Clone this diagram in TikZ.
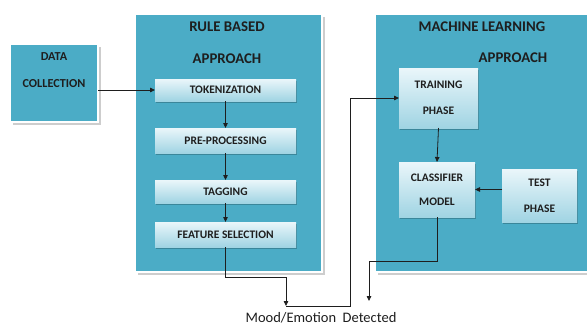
\documentclass[tikz,border=0pt]{standalone}
\usepackage{fontspec}
\setmainfont{Carlito}
\usetikzlibrary{arrows.meta,shadows}
\definecolor{panelblue}{RGB}{75,172,198}
\definecolor{steplight}{RGB}{234,246,250}
\definecolor{stepdark}{RGB}{160,212,227}
\definecolor{shadowgray}{RGB}{205,205,205}
\definecolor{inkgray}{RGB}{30,30,30}

\begin{document}
\begin{tikzpicture}[x=1pt,y=-1pt,
  panel/.style={draw=white, line width=1.2pt, fill=panelblue, anchor=north west,
    inner sep=0pt, outer sep=0pt,
    drop shadow={shadow xshift=2.5pt, shadow yshift=-2.5pt, fill=shadowgray, opacity=1}},
  stepbox/.style={anchor=north west, inner sep=0pt, outer sep=0pt,
    top color=steplight, bottom color=stepdark,
    drop shadow={shadow xshift=1.2pt, shadow yshift=-1.5pt, fill=black, opacity=0.22},
    text=inkgray, font=\fontsize{11.5}{12}\selectfont\bfseries, align=center},
  title/.style={text=inkgray, font=\fontsize{14.8}{16}\selectfont\bfseries, inner sep=0pt},
  boxtext/.style={text=inkgray, font=\fontsize{12.2}{12}\selectfont\bfseries, align=center, inner sep=0pt},
  flow/.style={draw=inkgray, line width=0.8pt, -{Triangle[length=5pt,width=4.5pt]}}]

\useasboundingbox (0,0) rectangle (587,327);
\fill[white] (0,0) rectangle (587,327);

% panels
\node[panel, minimum width=88pt, minimum height=78pt] (dc) at (10,44) {};
\node[boxtext] (dct) at (54,70.5) {DATA\\[15pt]COLLECTION};

\node[panel, minimum width=187pt, minimum height=258pt] (rb) at (135,14) {};
\node[title] (rbt1) at (227,27) {RULE BASED};
\node[title] (rbt2) at (227,59) {APPROACH};

\node[panel, minimum width=230pt, minimum height=258pt] (ml) at (375,14) {};
\node[title] (mlt1) at (482,27) {MACHINE LEARNING};
\node[title] (mlt2) at (513,58) {APPROACH};

% rule based steps
\node[stepbox, minimum width=141pt, minimum height=22pt] (tok) at (155,79) {TOKENIZATION};
\node[stepbox, minimum width=141pt, minimum height=25pt] (pre) at (155,128) {PRE-PROCESSING};
\node[stepbox, minimum width=141pt, minimum height=23pt] (tag) at (155,180) {TAGGING};
\node[stepbox, minimum width=141pt, minimum height=25pt] (fs) at (155,222) {FEATURE SELECTION};

% machine learning steps
\node[stepbox, minimum width=79pt, minimum height=60pt] (tr) at (399,68) {TRAINING\\[14pt]PHASE};
\node[stepbox, minimum width=76pt, minimum height=55pt] (cm) at (399,162) {CLASSIFIER\\[12pt]MODEL};
\node[stepbox, minimum width=75pt, minimum height=53pt] (tp) at (502,169) {TEST\\[14pt]PHASE};

% result
\node[text=inkgray, font=\fontsize{14.5}{16}\selectfont, inner sep=0pt] (res) at (321,318) {Mood/Emotion\ \ Detected};
\coordinate (m1) at (286,306);
\coordinate (jn) at (350,306);
\coordinate (m2) at (369,301);

% connectors
\draw[flow] (tok.west -| dc.east) -- (tok.west);
\draw[flow] (tok.south) -- (pre.north);
\draw[flow] (pre.south) -- (tag.north);
\draw[flow] (tag.south) -- (fs.north);
\draw[flow] (fs.south) -- ++(0,30) -| (m1);
\draw[flow] (m1) -- (jn) |- (tr.west);
\draw[flow] (tr.south) -- (cm.north);
\draw[flow] (cm.east -| tp.west) -- (cm.east);
\draw[flow] (cm.south) -- ++(0,44) -| (m2);
\end{tikzpicture}
\end{document}
